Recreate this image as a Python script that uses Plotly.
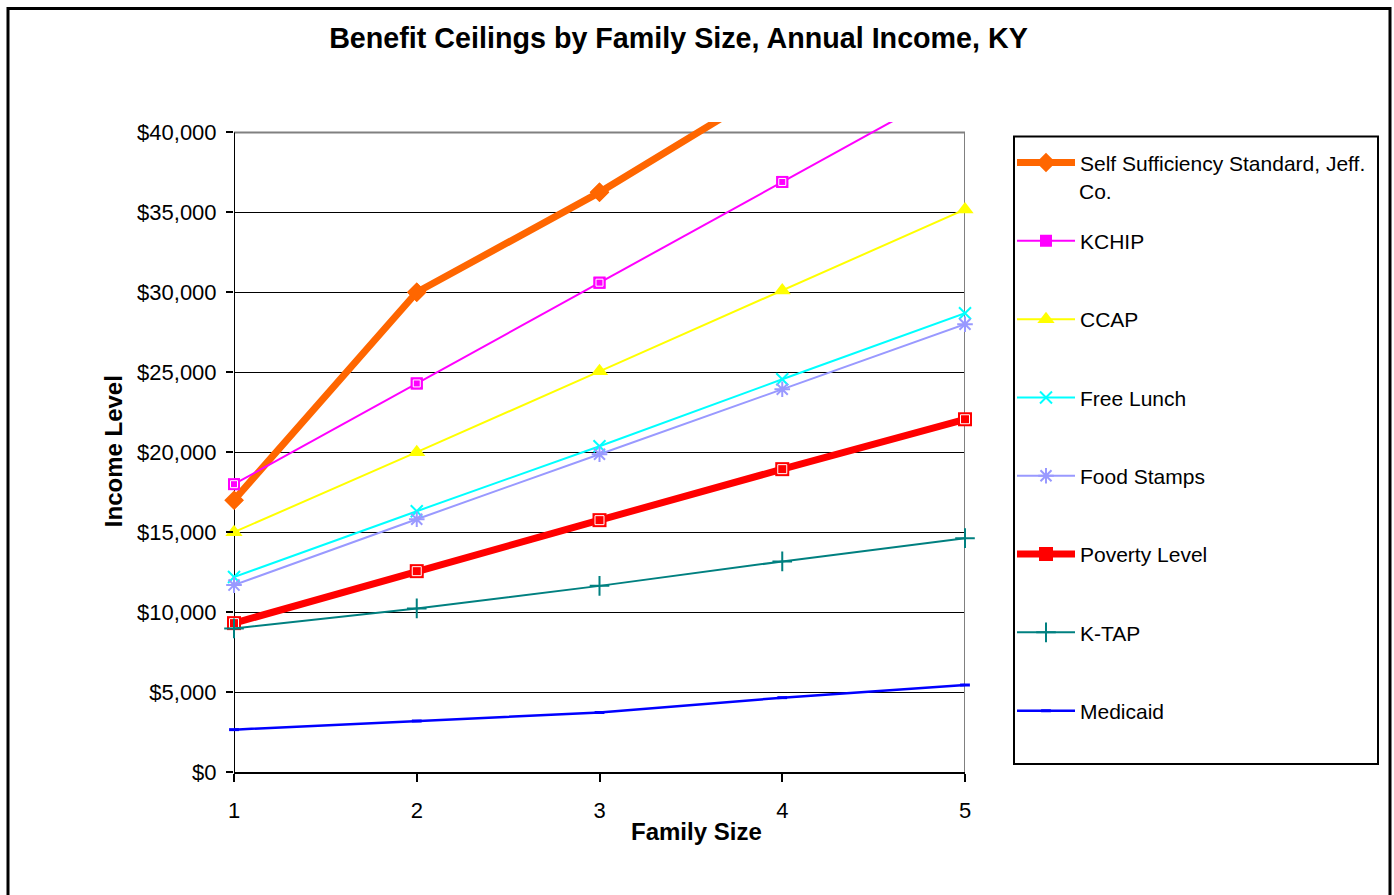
import plotly.graph_objects as go

# ---------------- data ----------------
family_size = [1, 2, 3, 4, 5]
self_sufficiency = [17000, 30000, 36250, 43200, 48000]
kchip = [18000, 24300, 30600, 36900, 43200]
ccap = [15000, 20000, 25060, 30120, 35180]
free_lunch = [12190, 16310, 20375, 24560, 28690]
food_stamps = [11690, 15810, 19875, 23940, 28000]
poverty = [9310, 12560, 15750, 18940, 22060]
ktap = [8980, 10230, 11640, 13170, 14625]
medicaid = [2650, 3190, 3720, 4650, 5440]

y_tick_vals = [0, 5000, 10000, 15000, 20000, 25000, 30000, 35000, 40000]
y_tick_text = ["$0", "$5,000", "$10,000", "$15,000", "$20,000", "$25,000",
               "$30,000", "$35,000", "$40,000"]
x_tick_vals = [1, 2, 3, 4, 5]

title_text = "Benefit Ceilings by Family Size, Annual Income, KY"
x_title = "Family Size"
y_title = "Income Level"
first_name_line1 = "Self Sufficiency Standard, Jeff."
first_name_line2 = "Co."

# ---------------- layout constants ----------------
W, H = 1394, 895
ML, MR, MT, MB = 234, 429, 121.6, 123
Y_MAX_AXIS = 40000
Y_RANGE_TOP = 40650
FONT = "Arial, Liberation Sans, sans-serif"

PW = W - ML - MR
PH = H - MT - MB


def px_x(px):
    return (px - ML) / PW


def px_y(py):
    return (H - MB - py) / PH


series = [
    dict(name=first_name_line1, y=self_sufficiency, color="#FF6600",
         width=7, symbol="diamond", size=15, mlw=0),
    dict(name="KCHIP", y=kchip, color="#FF00FF", width=2, symbol="square", size=12, mlw=0),
    dict(name="CCAP", y=ccap, color="#FFFF00", width=2, symbol="triangle-up", size=15, mlw=0),
    dict(name="Free Lunch", y=free_lunch, color="#00FFFF", width=2, symbol="x-thin-open", size=12, mlw=2),
    dict(name="Food Stamps", y=food_stamps, color="#9999FF", width=2, symbol="asterisk-open", size=13, mlw=2),
    dict(name="Poverty Level", y=poverty, color="#FF0000", width=7, symbol="square", size=14, mlw=0),
    dict(name="K-TAP", y=ktap, color="#008080", width=2, symbol="cross-thin-open", size=14, mlw=2),
    dict(name="Medicaid", y=medicaid, color="#0000FF", width=2.5, symbol="line-ew-open", size=7, mlw=3),
]

fig = go.Figure()

for s in series:
    in_range = all(v <= Y_RANGE_TOP for v in s["y"])
    fig.add_trace(go.Scatter(
        x=family_size, y=s["y"], name=s["name"], legendgroup=s["name"],
        mode="lines+markers",
        line=dict(color=s["color"], width=s["width"]),
        marker=dict(symbol=s["symbol"], size=s["size"], color=s["color"],
                    line=dict(color=s["color"], width=s["mlw"])),
        cliponaxis=not in_range,
    ))
    if not in_range:
        xs = [x for x, v in zip(family_size, s["y"]) if v <= Y_RANGE_TOP]
        ys = [v for v in s["y"] if v <= Y_RANGE_TOP]
        fig.add_trace(go.Scatter(
            x=xs, y=ys, mode="markers", showlegend=False, legendgroup=s["name"],
            marker=dict(symbol=s["symbol"], size=s["size"], color=s["color"],
                        line=dict(color=s["color"], width=s["mlw"])),
            cliponaxis=False, hoverinfo="skip",
        ))
    if s["symbol"] == "square":
        xs = [x for x, v in zip(family_size, s["y"]) if v <= Y_RANGE_TOP]
        ys = [v for v in s["y"] if v <= Y_RANGE_TOP]
        fig.add_trace(go.Scatter(
            x=xs, y=ys, mode="markers", showlegend=False, legendgroup=s["name"],
            marker=dict(symbol="square-open", size=s["size"] - 5, color="white",
                        line=dict(color="white", width=1)),
            cliponaxis=False, hoverinfo="skip",
        ))

shapes = [
    # plot-area frame pieces
    dict(type="line", xref="x", yref="y", x0=family_size[0], x1=family_size[-1],
         y0=Y_MAX_AXIS, y1=Y_MAX_AXIS, line=dict(color="#808080", width=2), layer="between"),
    dict(type="line", xref="x", yref="y", x0=family_size[-1], x1=family_size[-1],
         y0=0, y1=Y_MAX_AXIS, line=dict(color="#808080", width=2), layer="between"),
    dict(type="line", xref="x", yref="y", x0=family_size[0], x1=family_size[0],
         y0=0, y1=Y_MAX_AXIS, line=dict(color="black", width=2), layer="between"),
    # outer chart border
    dict(type="rect", xref="paper", yref="paper",
         x0=px_x(8), x1=px_x(1390), y0=px_y(915), y1=px_y(8),
         line=dict(color="black", width=3), fillcolor="rgba(0,0,0,0)", layer="below"),
    # legend frame
    dict(type="rect", xref="paper", yref="paper",
         x0=px_x(1014), x1=px_x(1378), y0=px_y(764), y1=px_y(136),
         line=dict(color="black", width=2), fillcolor="white", layer="below"),
]

annotations = [
    dict(text="<b>" + y_title + "</b>", xref="paper", yref="paper",
         x=px_x(113), y=px_y(451), textangle=-90, showarrow=False,
         font=dict(family=FONT, size=24, color="black"), xanchor="center", yanchor="middle"),
    dict(text="<b>" + x_title + "</b>", xref="paper", yref="paper",
         x=px_x(696), y=px_y(832), showarrow=False,
         font=dict(family=FONT, size=24, color="black"), xanchor="center", yanchor="middle"),
    dict(text=first_name_line2, xref="paper", yref="paper",
         x=px_x(1077), y=px_y(191), showarrow=False,
         font=dict(family=FONT, size=21, color="black"), xanchor="left", yanchor="middle"),
]

fig.update_layout(
    width=W, height=H,
    margin=dict(l=ML, r=MR, t=MT, b=MB, pad=0),
    paper_bgcolor="white", plot_bgcolor="white",
    font=dict(family=FONT, color="black"),
    title=dict(text="<b>" + title_text + "</b>", x=678.5 / W, xanchor="center",
               y=1 - 38 / H, yanchor="middle",
               font=dict(family=FONT, size=28.7, color="black")),
    showlegend=True,
    legend=dict(
        x=px_x(1012), y=px_y(142), xanchor="left", yanchor="top",
        bgcolor="rgba(0,0,0,0)", borderwidth=0,
        font=dict(family=FONT, size=21, color="black"),
        itemwidth=58, tracegroupgap=48, valign="middle",
        traceorder="grouped", itemclick=False, itemdoubleclick=False,
    ),
    xaxis=dict(
        range=[family_size[0], family_size[-1]], tickvals=x_tick_vals,
        showgrid=False, zeroline=False,
        showline=True, linecolor="black", linewidth=2,
        ticks="outside", ticklen=8, tickwidth=2, tickcolor="black",
        tickfont=dict(family=FONT, size=22, color="black"),
        ticklabelstandoff=10,
    ),
    yaxis=dict(
        range=[0, Y_RANGE_TOP], tickvals=y_tick_vals, ticktext=y_tick_text,
        showgrid=True, gridcolor="black", gridwidth=1,
        zeroline=False, showline=False,
        ticks="outside", ticklen=7, tickwidth=2, tickcolor="black",
        tickfont=dict(family=FONT, size=22, color="black"),
        ticklabelstandoff=5,
    ),
    shapes=shapes,
    annotations=annotations,
)

fig.write_html("out.html")
